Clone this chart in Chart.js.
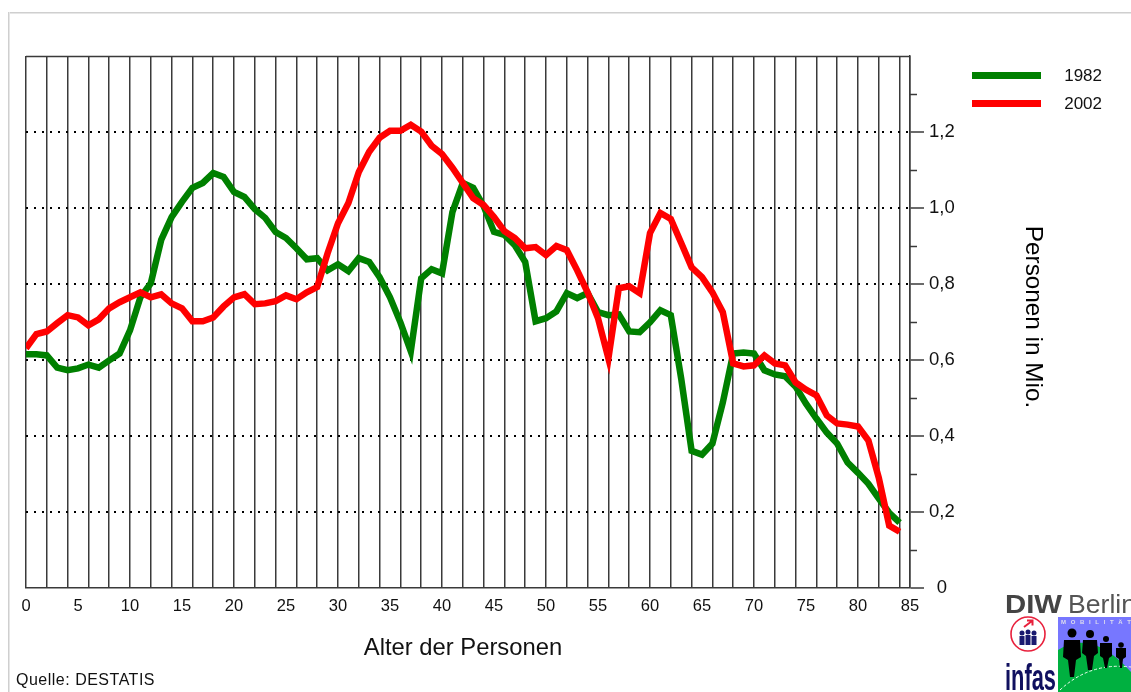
<!DOCTYPE html>
<html><head><meta charset="utf-8">
<script src="https://cdn.jsdelivr.net/npm/chart.js@4"></script>
<style>
html,body{margin:0;padding:0;background:#fff;width:1131px;height:692px;overflow:hidden;font-family:"Liberation Sans",Arial,sans-serif}
#c{position:absolute;left:0;top:0}
.frame-t{position:absolute;left:8px;top:12px;width:1123px;height:1px;background:#cfcfcf;box-shadow:0 1px 0 #e6e6e6}
.frame-l{position:absolute;left:8px;top:12px;width:1px;height:680px;background:#cfcfcf;box-shadow:1px 0 0 #e6e6e6}
.sw{position:absolute;left:972px;width:69px;height:7px}
.lg{position:absolute;left:1052px;width:50px;text-align:right;font-size:17px;line-height:20px;color:#111}
#src{position:absolute;left:16px;top:671px;font-size:16px;line-height:18px;color:#111;letter-spacing:.5px}
#logo{position:absolute;left:1000px;top:590px}
</style></head><body>
<div class="frame-t"></div><div class="frame-l"></div>
<canvas id="c" width="1131" height="692"></canvas>
<div class="sw" style="top:72px;background:#008000"></div><div class="lg" style="top:66px">1982</div>
<div class="sw" style="top:100px;background:#ff0000"></div><div class="lg" style="top:94px">2002</div>
<div id="src">Quelle: DESTATIS</div>
<svg id="logo" width="131" height="102" viewBox="0 0 131 102">
 <text x="5" y="23" font-family="Liberation Sans" font-weight="bold" font-size="26" fill="#444" textLength="57" lengthAdjust="spacingAndGlyphs">DIW</text>
 <text x="68" y="23" font-family="Liberation Sans" font-size="25" fill="#555" textLength="68" lengthAdjust="spacingAndGlyphs">Berlin</text>
 <circle cx="28" cy="44" r="17" fill="#fff" stroke="#e8203c" stroke-width="1.6"/>
 <path d="M24 37l8-6M27 30.500h5.500v5" stroke="#e8203c" stroke-width="2" fill="none"/>
 <g fill="#1a1a70"><circle cx="22" cy="43" r="2.500"/><circle cx="28" cy="42" r="2.500"/><circle cx="34" cy="43" r="2.500"/>
 <rect x="19.500" y="46" width="5" height="9"/><rect x="25.500" y="45" width="5" height="10"/><rect x="31.500" y="46" width="5" height="9"/></g>
 <text x="5" y="100" font-family="Liberation Sans" font-weight="bold" font-size="36" fill="#10105f" textLength="51" lengthAdjust="spacingAndGlyphs">infas</text>
 <rect x="58" y="27" width="73" height="75" fill="#7777ff"/>
 <path d="M58 60Q92 38 131 82V102H58Z" fill="#00b040"/>
 <path d="M60 100Q90 72 131 77" fill="none" stroke="#eefff0" stroke-width="1" stroke-dasharray="3 2"/>
 <text x="61" y="34" font-family="Liberation Sans" font-weight="bold" font-size="6" fill="#dde" textLength="70">MOBILITÄT</text>
 <g fill="#000">
  <ellipse cx="72" cy="43" rx="4.500" ry="4.500"/><path d="M64 50h16l1 17-5 3-2 17h-4l-2-17-5-3z"/>
  <ellipse cx="90" cy="44" rx="4" ry="4"/><path d="M83 50h14l1 13-4 3-2 14h-4l-2-14-4-3z"/>
  <ellipse cx="106" cy="49" rx="3" ry="3"/><path d="M100 53h12l0 13-3 2-2 10h-2l-2-10-3-2z"/>
  <ellipse cx="121" cy="55" rx="2.800" ry="2.800"/><path d="M116 58h10l0 9-3 2-1 9h-2l-1-9-3-2z"/>
 </g>
</svg>
<script>
const ages = [0,1,2,3,4,5,6,7,8,9,10,11,12,13,14,15,16,17,18,19,20,21,22,23,24,25,26,27,28,29,30,31,32,33,34,35,36,37,38,39,40,41,42,43,44,45,46,47,48,49,50,51,52,53,54,55,56,57,58,59,60,61,62,63,64,65,66,67,68,69,70,71,72,73,74,75,76,77,78,79,80,81,82,83,84];
const series1982 = [.615,.615,.612,.580,.573,.578,.588,.580,.599,.617,.678,.765,.802,.916,.976,1.016,1.053,1.066,1.092,1.082,1.042,1.029,.997,.974,.937,.921,.894,.865,.868,.836,.852,.834,.868,.858,.818,.765,.699,.623,.815,.839,.828,.989,1.066,1.053,1.005,.937,.929,.902,.858,.702,.710,.728,.776,.763,.776,.726,.718,.720,.675,.673,.699,.731,.718,.551,.361,.351,.380,.488,.617,.620,.617,.573,.562,.557,.530,.485,.446,.409,.380,.330,.303,.274,.235,.198,.172];
const series2002 = [.631,.668,.675,.697,.718,.712,.691,.707,.736,.752,.765,.778,.765,.773,.749,.736,.702,.702,.712,.741,.765,.773,.747,.749,.755,.770,.760,.778,.792,.881,.960,1.013,1.095,1.148,1.185,1.203,1.203,1.219,1.201,1.164,1.142,1.106,1.066,1.026,1.008,.976,.939,.921,.894,.897,.876,.900,.889,.836,.778,.710,.604,.789,.794,.776,.934,.987,.971,.908,.844,.818,.778,.726,.591,.583,.586,.612,.591,.586,.541,.522,.507,.454,.433,.430,.425,.388,.290,.164,.148];
const xLabelStep = 5, xGridStep = 2, xMax = 85, yMax = 1.4, yStep = 0.1;
const xTitle = "Alter der Personen", yTitle = "Personen in Mio.";
const lineColor = "#3a3a3a";

function shiftTitle(s,dx,dy){
  if(s.$shifted) return;
  s.$shifted=true;
  const orig=s.drawTitle;
  s.drawTitle=function(){const c=this.ctx;c.save();c.translate(dx,dy);orig.apply(this,arguments);c.restore();};
}

const frameAndMinorTicks = {
  id:'frameAndMinorTicks',
  beforeDatasetsDraw(chart){
    const {ctx,scales:{y},chartArea:a}=chart;
    ctx.save();
    ctx.strokeStyle=lineColor;ctx.lineWidth=1.5;
    ctx.beginPath();ctx.moveTo(a.left,Math.round(a.top)+.5);ctx.lineTo(a.right,Math.round(a.top)+.5);ctx.stroke();
    y.ticks.forEach(t=>{
      const k=Math.round(t.value*10);
      if(k%2===1){const p=Math.round(y.getPixelForValue(t.value))+.5;
        ctx.beginPath();ctx.moveTo(a.right,p);ctx.lineTo(a.right+7,p);ctx.stroke();}
    });
    ctx.restore();
  }
};

new Chart(document.getElementById('c'),{
  type:'line',
  data:{datasets:[
    {label:'1982',data:ages.map((a,i)=>({x:a,y:series1982[i]})),borderColor:'#008000',borderWidth:6.5,pointRadius:0,tension:0,order:2},
    {label:'2002',data:ages.map((a,i)=>({x:a,y:series2002[i]})),borderColor:'#ff0000',borderWidth:6.5,pointRadius:0,tension:0,order:1}
  ]},
  options:{
    responsive:false,animation:false,
    layout:{padding:{left:26,top:56,right:80,bottom:26}},
    plugins:{legend:{display:false},tooltip:{enabled:false}},
    scales:{
      x:{type:'linear',min:0,max:xMax,
        afterFit(s){s.height=78;shiftTitle(s,-5,0)},
        grid:{drawTicks:false,lineWidth:1.5,
          color:c=>(c.tick&&(c.tick.value%xGridStep===0||c.tick.value===xMax))?lineColor:'rgba(0,0,0,0)'},
        border:{color:lineColor,width:1.5},
        ticks:{stepSize:1,autoSkip:false,maxRotation:0,padding:9,color:'#111',
          font:{family:'"Liberation Sans"',size:16.5},
          callback:v=>v%xLabelStep===0?String(v):''},
        title:{display:true,text:xTitle,color:'#111',font:{family:'"Liberation Sans"',size:23.8},padding:{top:0,bottom:3}}
      },
      y:{position:'right',min:0,max:yMax,
        afterFit(s){s.width=141;shiftTitle(s,-4,-5)},
        grid:{lineWidth:c=>(Math.round(c.tick.value*10)%2===0&&c.tick.value<yMax-.01&&c.tick.value>0)?2:0,
          color:'#000',tickLength:14,tickWidth:1.5,
          tickColor:c=>(Math.round(c.tick.value*10)%2===0&&c.tick.value<yMax-.01)?lineColor:'rgba(0,0,0,0)'},
        border:{color:lineColor,width:1.5,dash:[2,6]},
        ticks:{stepSize:yStep,autoSkip:false,padding:5,color:'#111',crossAlign:'center',
          font:{family:'"Liberation Sans"',size:18.5},
          callback:v=>{const k=Math.round(v*10);if(k%2!==0||k===14)return'';return k===0?'0':(k/10).toFixed(1).replace('.',',')}},
        title:{display:true,text:yTitle,color:'#000',font:{family:'"Liberation Sans"',size:24.3},padding:0}
      }
    }
  },
  plugins:[frameAndMinorTicks]
});
</script>
</body></html>
